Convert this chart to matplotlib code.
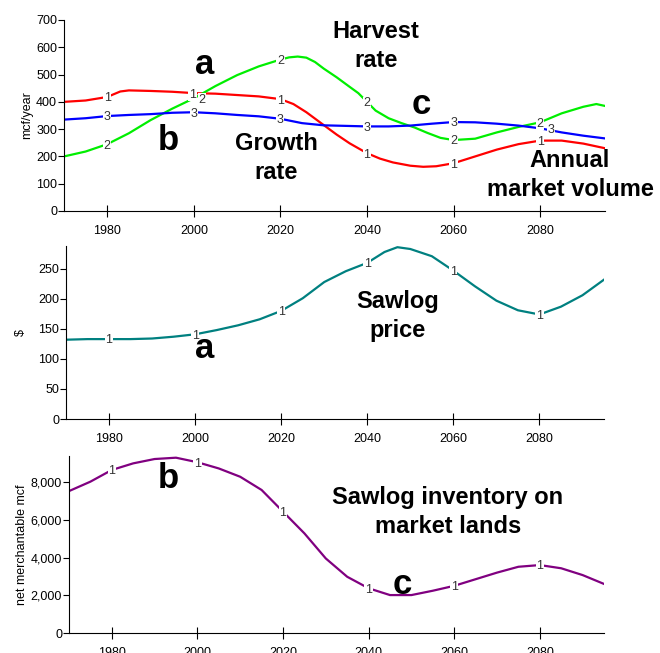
import numpy as np
import matplotlib
matplotlib.use("Agg")
import matplotlib.pyplot as plt

plt.rcParams["font.family"] = ["Liberation Sans", "DejaVu Sans"]

# -------- DATA --------
years_flow = [1970, 1975, 1980, 1983, 1985, 1990, 1995, 2000, 2005, 2010, 2015, 2020,
              2023, 2026, 2030, 2033, 2036, 2040, 2043, 2046, 2050, 2053, 2056, 2060,
              2065, 2070, 2075, 2080, 2085, 2090, 2095]
growth = [400, 405, 418, 438, 442, 440, 437, 432, 430, 425, 420, 410,
          392, 362, 315, 280, 248, 212, 192, 178, 166, 162, 164, 175,
          200, 225, 245, 258, 258, 247, 230]

years_harvest = [1970, 1975, 1980, 1985, 1990, 1995, 2000, 2005, 2010, 2015, 2020, 2022,
                 2024, 2026, 2028, 2030, 2033, 2036, 2038, 2040, 2042, 2045, 2048, 2051,
                 2054, 2057, 2060, 2065, 2070, 2075, 2080, 2085, 2090, 2093, 2095]
harvest = [200, 218, 245, 285, 333, 375, 413, 458, 498, 530, 555, 563,
           566, 562, 546, 522, 490, 455, 432, 400, 368, 340, 322, 306,
           286, 268, 260, 265, 288, 308, 325, 358, 382, 392, 385]

years_5 = list(range(1970, 2096, 5))
market = [335, 340, 348, 352, 355, 360, 362, 358, 352, 347, 338, 322, 314,
          312, 310, 310, 313, 320, 326, 325, 320, 313, 303, 288, 276, 266]

years_price = [1970, 1975, 1980, 1985, 1990, 1995, 2000, 2005, 2010, 2015, 2020, 2025,
               2030, 2035, 2040, 2044, 2047, 2050, 2055, 2060, 2065, 2070, 2075, 2080,
               2085, 2090, 2095]
price = [132, 133, 133, 133, 134, 137, 141, 148, 156, 166, 180, 201,
         228, 246, 260, 278, 286, 283, 271, 247, 221, 197, 181, 174,
         187, 206, 232]

inventory = [7520, 8020, 8640, 8990, 9220, 9290, 9050, 8720, 8280, 7580, 6430, 5280,
             3950, 2980, 2370, 2010, 2010, 2240, 2500, 2850, 3200, 3510, 3600, 3430,
             3070, 2600]

label_years = [1980, 2000, 2020, 2040, 2060, 2080]
x_ticks = [1980, 2000, 2020, 2040, 2060, 2080]
# ----------------------


def style_axis(ax, ymax, yticks):
    ax.set_xlim(1970, 2095)
    ax.set_ylim(0, ymax)
    ax.set_xticks(x_ticks)
    ax.set_yticks(yticks)
    ax.spines["top"].set_visible(False)
    ax.spines["right"].set_visible(False)
    ax.tick_params(axis="x", direction="inout", length=8, labelsize=9, pad=6)
    ax.tick_params(axis="y", direction="out", length=4, labelsize=9, pad=1)


def curve_labels(ax, xs, ys, text, offsets=None):
    offsets = offsets or {}
    for yr in label_years:
        dx = offsets.get(yr, 0)
        ax.annotate(text, (yr, np.interp(yr, xs, ys)), xytext=(dx, -1),
                    textcoords="offset points", ha="center", va="center",
                    fontsize=9, color="#333333",
                    bbox=dict(boxstyle="square,pad=0.05", fc="white", ec="none"))


def big(fig, x, y, s, size=17):
    fig.text(x / 660, 1 - y / 653, s, ha="center", va="center",
             fontsize=size, fontweight="bold", linespacing=1.3)


fig = plt.figure(figsize=(6.6, 6.53), dpi=100)

# ---- Panel 1: flows ----
ax1 = fig.add_axes([64 / 660, 1 - 211 / 653, 541 / 660, 191 / 653])
ax1.plot(years_flow, growth, color="#ff0000", lw=1.6)
ax1.plot(years_harvest, harvest, color="#00ee00", lw=1.6)
ax1.plot(years_5, market, color="#0000ff", lw=1.6)
curve_labels(ax1, years_flow, growth, "1", {2000: -1})
curve_labels(ax1, years_harvest, harvest, "2", {2000: 6})
curve_labels(ax1, years_5, market, "3", {2080: 8})
style_axis(ax1, 700, range(0, 701, 100))
ax1.set_ylabel("mcf/year", fontsize=9, labelpad=2)

# ---- Panel 2: price ----
ax2 = fig.add_axes([66 / 660, 1 - 419 / 653, 538 / 660, 173 / 653])
ax2.plot(years_price, price, color="#008080", lw=1.6)
curve_labels(ax2, years_price, price, "1")
style_axis(ax2, 288, range(0, 251, 50))
ax2.set_ylabel("$", fontsize=9, labelpad=8)

# ---- Panel 3: inventory ----
ax3 = fig.add_axes([69 / 660, 1 - 633 / 653, 535 / 660, 177 / 653])
ax3.plot(years_5, inventory, color="#800080", lw=1.6)
curve_labels(ax3, years_5, inventory, "1")
style_axis(ax3, 9380, range(0, 8001, 2000))
ax3.yaxis.set_major_formatter(matplotlib.ticker.StrMethodFormatter("{x:,.0f}"))
ax3.set_ylabel("net merchantable mcf", fontsize=9, labelpad=2)

# ---- Annotations ----
big(fig, 205, 64, "a", 25)
big(fig, 168, 140, "b", 25)
big(fig, 421, 104, "c", 25)
big(fig, 276, 158, "Growth\nrate")
big(fig, 376, 46, "Harvest\nrate")
big(fig, 570, 175, "Annual\nmarket volume")
big(fig, 205, 349, "a", 25)
big(fig, 398, 316, "Sawlog\nprice")
big(fig, 168, 479, "b", 25)
big(fig, 402, 584, "c", 25)
big(fig, 448, 512, "Sawlog inventory on\nmarket lands")

fig.savefig("out.png", dpi=100)
